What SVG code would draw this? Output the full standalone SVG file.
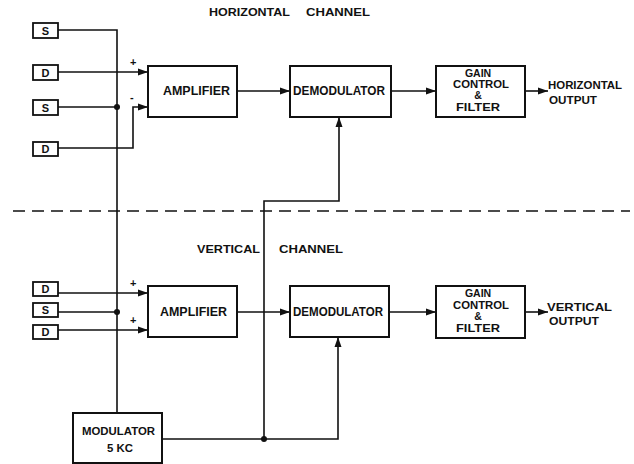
<svg xmlns="http://www.w3.org/2000/svg" width="634" height="464" viewBox="0 0 634 464">
<defs>
<marker id="ah" markerUnits="userSpaceOnUse" markerWidth="10" markerHeight="8" refX="10" refY="4" orient="auto">
<path d="M0,0.5 L10,4 L0,7.5 Z" fill="#111"/>
</marker>
<style>
.box{fill:#fff;stroke:#111;stroke-width:2}
.sbox{fill:#fff;stroke:#111;stroke-width:1.8}
.ln{fill:none;stroke:#111;stroke-width:1.6}
.arr{fill:none;stroke:#111;stroke-width:1.6;marker-end:url(#ah)}
text{font-family:"Liberation Sans",Arial,sans-serif;font-weight:bold;fill:#111}
.t{font-size:12.5px}
.g{font-size:10.5px;text-anchor:middle}
.s{font-size:11px;text-anchor:middle}
.o{font-size:10.5px}
.h{font-size:11px}
</style>
</defs>
<rect width="634" height="464" fill="#fff"/>

<g id="titles">
<text class="h" x="209" y="16" textLength="81" lengthAdjust="spacingAndGlyphs">HORIZONTAL</text>
<text class="h" x="306" y="16" textLength="64" lengthAdjust="spacingAndGlyphs">CHANNEL</text>
<text class="h" x="197" y="253" textLength="63" lengthAdjust="spacingAndGlyphs">VERTICAL</text>
<text class="h" x="279" y="253" textLength="64" lengthAdjust="spacingAndGlyphs">CHANNEL</text>
</g>

<line x1="13" y1="211" x2="630" y2="211" stroke="#111" stroke-width="1.6" stroke-dasharray="12,7"/>

<g id="connectors">
<path class="ln" d="M58 30 H117 V413"/>
<path class="arr" d="M58 72 H148"/>
<path class="ln" d="M58 107 H117"/>
<path class="arr" d="M58 148 H133 V107 H148"/>
<path class="arr" d="M237 91 H290"/>
<path class="arr" d="M391 91 H436"/>
<path class="arr" d="M525 91 H548"/>
<path class="arr" d="M264 439 V201 H339 V117"/>
<path class="arr" d="M58 293 H148"/>
<path class="ln" d="M58 312 H117"/>
<path class="arr" d="M58 330 H148"/>
<path class="arr" d="M237 312 H290"/>
<path class="arr" d="M389 312 H436"/>
<path class="arr" d="M525 312 H548"/>
<path class="arr" d="M162 439 H338 V337"/>
<circle cx="117" cy="107" r="3" fill="#111"/>
<circle cx="117" cy="312" r="3" fill="#111"/>
<circle cx="264" cy="439" r="3" fill="#111"/>
<text x="130" y="66" style="font-size:11px">+</text>
<text x="130" y="101" style="font-size:11px">-</text>
<text x="130" y="287" style="font-size:11px">+</text>
<text x="130" y="324" style="font-size:11px">+</text>
</g>

<g id="in-s1"><rect class="sbox" x="33" y="23" width="25" height="15"/><text class="s" x="45.5" y="34.5">S</text></g>
<g id="in-d1"><rect class="sbox" x="33" y="65" width="25" height="15"/><text class="s" x="45.5" y="76.5">D</text></g>
<g id="in-s2"><rect class="sbox" x="33" y="100" width="25" height="15"/><text class="s" x="45.5" y="111.5">S</text></g>
<g id="in-d2"><rect class="sbox" x="33" y="142" width="25" height="14"/><text class="s" x="45.5" y="153">D</text></g>
<g id="in-d3"><rect class="sbox" x="33" y="282" width="25" height="14"/><text class="s" x="45.5" y="293">D</text></g>
<g id="in-s3"><rect class="sbox" x="33" y="303" width="25" height="14"/><text class="s" x="45.5" y="314">S</text></g>
<g id="in-d4"><rect class="sbox" x="33" y="325" width="25" height="14"/><text class="s" x="45.5" y="336">D</text></g>

<g id="amp-h"><rect class="box" x="148" y="66" width="89" height="51"/><text class="t" x="163" y="94.5" textLength="67" lengthAdjust="spacingAndGlyphs">AMPLIFIER</text></g>
<g id="demod-h"><rect class="box" x="290" y="66" width="101" height="51"/><text class="t" x="293" y="94.5" textLength="92" lengthAdjust="spacingAndGlyphs">DEMODULATOR</text></g>
<g id="gain-h"><rect class="box" x="436" y="66" width="89" height="51"/>
<text class="g" x="478" y="77">GAIN</text>
<text class="g" x="481" y="88" textLength="56" lengthAdjust="spacingAndGlyphs">CONTROL</text>
<text class="g" x="478" y="99">&amp;</text>
<text class="g" x="478" y="111" textLength="44" lengthAdjust="spacingAndGlyphs">FILTER</text></g>
<g id="out-h"><text class="o" x="548" y="88.5" textLength="74" lengthAdjust="spacingAndGlyphs">HORIZONTAL</text><text class="o" x="549" y="103.5" textLength="48" lengthAdjust="spacingAndGlyphs">OUTPUT</text></g>

<g id="amp-v"><rect class="box" x="148" y="286" width="89" height="51"/><text class="t" x="160" y="315.5" textLength="67" lengthAdjust="spacingAndGlyphs">AMPLIFIER</text></g>
<g id="demod-v"><rect class="box" x="290" y="286" width="99" height="51"/><text class="t" x="293" y="316" textLength="90" lengthAdjust="spacingAndGlyphs">DEMODULATOR</text></g>
<g id="gain-v"><rect class="box" x="436" y="286" width="89" height="52"/>
<text class="g" x="478" y="297">GAIN</text>
<text class="g" x="481" y="308.5" textLength="56" lengthAdjust="spacingAndGlyphs">CONTROL</text>
<text class="g" x="478" y="320">&amp;</text>
<text class="g" x="478" y="332" textLength="44" lengthAdjust="spacingAndGlyphs">FILTER</text></g>
<g id="out-v"><text class="o" x="547" y="311" textLength="65" lengthAdjust="spacingAndGlyphs">VERTICAL</text><text class="o" x="549" y="324.5" textLength="50" lengthAdjust="spacingAndGlyphs">OUTPUT</text></g>

<g id="modulator"><rect class="box" x="73" y="413" width="89" height="50"/>
<text class="o" x="82" y="435" textLength="73" lengthAdjust="spacingAndGlyphs">MODULATOR</text>
<text class="o" x="107" y="452" textLength="26" lengthAdjust="spacingAndGlyphs">5 KC</text></g>
</svg>
